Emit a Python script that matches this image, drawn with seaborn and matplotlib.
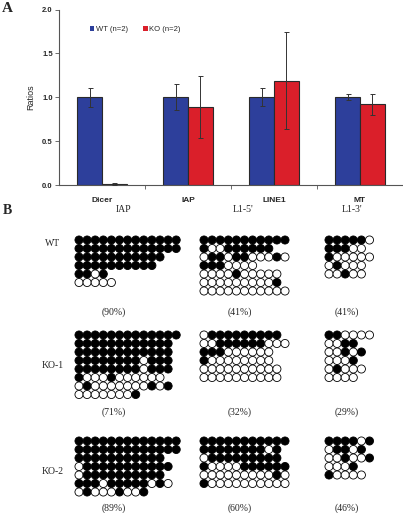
import numpy as np
import pandas as pd
import matplotlib
matplotlib.use('Agg')
import matplotlib.pyplot as plt
import seaborn as sns

# panel A data
genes = ['Dicer', 'IAP', 'LINE1', 'MT']
groups = ['WT (n=2)', 'KO (n=2)']
wt_ratio = [1.0, 1.0, 1.0, 1.0]
wt_err = [0.11, 0.15, 0.10, 0.035]
ko_ratio = [0.01, 0.89, 1.19, 0.92]
ko_err = [0.01, 0.35, 0.55, 0.12]

# panel B data: 1 = methylated (filled), 0 = unmethylated (open)
samples = ['WT', 'KO-1', 'KO-2']
probes = ['IAP', "L1-5'", "L1-3'"]
wt_iap = ['1111111111111', '1111111111111', '11111111111', '1111111111', '1101', '00000']
wt_l15 = ['11111111111', '100111111', '01101100010', '1110000', '0000100000', '0000000001', '00000000000']
wt_l13 = ['111110', '11100', '100000', '01000', '00100']
ko1_iap = ['1111111111111', '111111111111', '111111111111', '111111110111', '111111110111',
           '10001000000', '010000000101', '00000001']
ko1_l15 = ['0111111111', '00111111000', '111000000', '100000000', '0000000000', '0000000000']
ko1_l13 = ['110000', '0011', '00101', '0001', '01000', '0000']
ko2_iap = ['1111111111111', '1111111111111', '11111111111', '011111111111', '01111111111',
           '111011111010', '010001001']
ko2_l15 = ['11111111111', '1111111101', '0111111111', '10000111111', '00000000010', '10000000000']
ko2_l13 = ['111101', '01101', '001001', '0001', '10000']
percents = [['(90%)', '(41%)', '(41%)'],
            ['(71%)', '(32%)', '(29%)'],
            ['(89%)', '(60%)', '(46%)']]

blue = '#2D3F9B'
red = '#DA1F2A'

sns.set_style('white')
fig = plt.figure(figsize=(4.03, 5.13), dpi=100)
W, H = 403, 513

# ---------- panel A ----------
ax = fig.add_axes([59 / W, 1 - 185 / H, 344 / W, 175.5 / H])
df = pd.DataFrame({
    'gene': genes * 2,
    'ratio': wt_ratio + ko_ratio,
    'group': [groups[0]] * 4 + [groups[1]] * 4,
})
sns.barplot(data=df, x='gene', y='ratio', hue='group', palette=[blue, red], saturation=1,
            width=0.58, edgecolor='#2a2a2a', linewidth=0.8, errorbar=None, ax=ax)

for cont, errs in zip(ax.containers, [wt_err, ko_err]):
    xs = [b.get_x() + b.get_width() / 2 for b in cont]
    ys = [b.get_height() for b in cont]
    ax.errorbar(xs, ys, yerr=errs, fmt='none', ecolor='#333333', elinewidth=0.7,
                capsize=1.8, capthick=0.7, zorder=5)

ax.set_xlim(-0.5, 3.5)
ax.set_ylim(0, 2.0)
ax.set_yticks([0, 0.5, 1.0, 1.5, 2.0])
ax.set_yticklabels(['0.0', '0.5', '1.0', '1.5', '2.0'], fontsize=5.5, fontweight='bold',
                   family='Liberation Sans')
ax.set_xticks(range(4))
ax.set_xticklabels(genes, fontsize=6, fontweight='bold', family='Liberation Sans')
ax.set_xticks([0.5, 1.5, 2.5], minor=True)
ax.tick_params(axis='x', which='major', length=0, pad=9)
ax.tick_params(axis='x', which='minor', length=3, width=0.6, direction='out', bottom=True, color='#555555')
ax.tick_params(axis='y', length=3, width=0.6, direction='out', left=True, pad=1.5, color='#555555')
ax.set_xlabel('')
ax.set_ylabel('Ratios', fontsize=6.5, family='Liberation Sans', labelpad=5)
for s in ['top', 'right']:
    ax.spines[s].set_visible(False)
for s in ['left', 'bottom']:
    ax.spines[s].set_color('#555555')
    ax.spines[s].set_linewidth(0.8)

handles, labels = ax.get_legend_handles_labels()
for h in handles:
    h.set_edgecolor('none')
ax.legend(handles, labels, ncol=2, frameon=False, loc='center left',
          bbox_to_anchor=(0.08, 0.885), handlelength=0.6, handleheight=0.6,
          handletextpad=0.2, columnspacing=2.0, borderaxespad=0,
          prop={'family': 'Liberation Sans', 'size': 5.5})

# ---------- panel B ----------
axb = fig.add_axes([0, 0, 1, 1])
axb.set_xlim(0, W)
axb.set_ylim(H, 0)
axb.axis('off')
axb.patch.set_alpha(0)

blocks = [[wt_iap, wt_l15, wt_l13],
          [ko1_iap, ko1_l15, ko1_l13],
          [ko2_iap, ko2_l15, ko2_l13]]
x0 = [79, 204, 329]
y0 = [240, 335, 441]
dx, dy = 8.1, 8.5

rows = []
for si, sample in enumerate(samples):
    for pi, probe in enumerate(probes):
        for r, line in enumerate(blocks[si][pi]):
            for c, ch in enumerate(line):
                rows.append({'x': x0[pi] + c * dx, 'y': y0[si] + r * dy, 'm': ch})
cpg = pd.DataFrame(rows)
sns.scatterplot(data=cpg, x='x', y='y', hue='m', palette={'1': 'black', '0': 'white'},
                edgecolor='black', linewidth=0.6, s=34, marker='o', legend=False, ax=axb)
axb.set_xlabel('')
axb.set_ylabel('')

serif = 'Liberation Serif'
axb.text(7, 8, 'A', fontsize=11, fontweight='bold', family=serif, ha='center', va='center')
axb.text(7, 211, 'B', fontsize=10, fontweight='bold', family=serif, ha='center', va='center')
for px, probe in zip([124, 243, 352], probes):
    axb.text(px, 210, probe, fontsize=7, family=serif, ha='center', va='center')
for py, sample in zip([244, 366, 471], samples):
    axb.text(53, py, sample, fontsize=7, family=serif, ha='center', va='center')
for py, prow in zip([312, 412, 508], percents):
    for px, p in zip([114, 240, 347], prow):
        axb.text(px, py, p, fontsize=7, family=serif, ha='center', va='center')

fig.savefig('out.png', dpi=100)
